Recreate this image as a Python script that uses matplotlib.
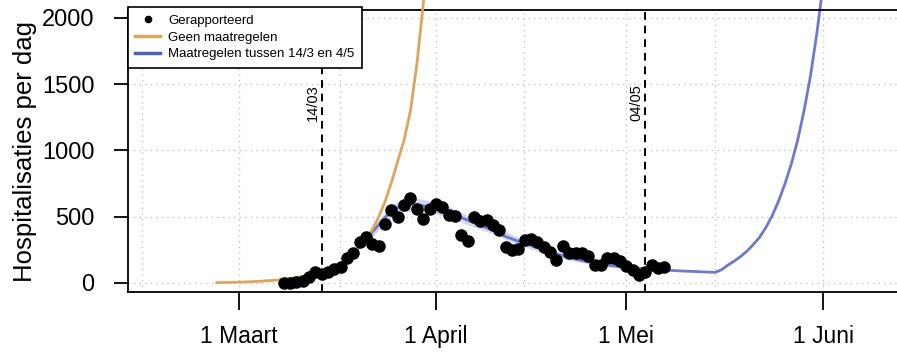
import numpy as np
import matplotlib
matplotlib.use("Agg")
import matplotlib.pyplot as plt
import matplotlib.dates as mdates
from matplotlib.lines import Line2D

# -----------------------------------------------------
# data, days since 1 March 2020
# -----------------------------------------------------
base = np.datetime64("2020-03-01")

# reported hospitalisations per day, one value per day from 8 March
reported_start = 7
reported = [2, 2, 10, 15, 43, 85, 65, 85, 105, 123, 186, 224, 312, 350, 295,
            280, 443, 551, 500, 589, 639, 556, 481, 560, 598, 577, 515, 508,
            365, 318, 498, 470, 475, 435, 400, 274, 247, 255, 325, 333, 312,
            270, 237, 177, 276, 226, 226, 226, 207, 136, 136, 190, 190, 167,
            125, 98, 63, 85, 136, 111, 118]

# scenario without measures
geen_days = [-3.5, 0, 3, 6, 9, 12, 14, 16, 18, 20, 21, 22, 23, 24, 25, 26,
             27, 28, 29, 30]
geen_vals = [3, 6, 12, 22, 40, 70, 100, 150, 220, 330, 405, 500, 615, 760,
             920, 1080, 1300, 1650, 2100, 2700]

# scenario with measures between 14/3 and 4/5
maatr_days = [18, 20, 21, 22, 23, 24, 25, 26, 27, 28, 29, 30, 32, 34, 36, 38,
              40, 42, 44, 46, 48, 50, 52, 54, 56, 58, 60, 62, 64, 66, 68, 70,
              72, 74, 75, 76, 77, 78, 79, 80, 81, 82, 83, 84, 85, 86, 87, 88,
              89, 90, 91, 92, 93]
maatr_vals = [220, 330, 385, 440, 495, 540, 570, 588, 593, 590, 583, 573, 548,
              513, 474, 435, 398, 350, 315, 282, 250, 218, 192, 170, 150, 135,
              124, 114, 106, 100, 95, 90, 86, 82, 80, 100, 135, 165, 200, 240,
              290, 345, 420, 510, 620, 750, 900, 1080, 1300, 1560, 1880, 2250,
              2700]

# uncertainty ribbon of the measures scenario
band_days = [20, 22, 24, 26, 28, 30, 33, 36, 40, 44, 48, 52, 56, 60, 64]
band_low = [300, 400, 495, 540, 545, 530, 495, 440, 370, 290, 225, 172, 135,
            110, 95]
band_high = [360, 480, 590, 640, 640, 620, 580, 510, 430, 345, 275, 212, 168,
             140, 118]

events = [13, 64]
event_labels = ["14/03", "04/05"]

month_days = [0, 31, 61, 92]
month_labels = ["1 Maart", "1 April", "1 Mei", "1 Juni"]
grid_days = [-15.3, 0, 15.9, 31, 44.9, 61, 74.9, 92]
y_ticks = [0, 500, 1000, 1500, 2000]


def to_num(days):
    d0 = mdates.date2num(base)
    return d0 + np.asarray(days, dtype=float)


orange = "#DCA65C"
blue = "#6E79C9"
blue_legend = "#4A62B4"
band_col = "#C9CEF0"

plt.rcParams["font.family"] = ["Liberation Sans", "DejaVu Sans"]

fig = plt.figure(figsize=(8.97, 3.57), dpi=100)
ax = fig.add_axes([128 / 897, 65 / 357, 777 / 897, 282 / 357])

# grid
for g in grid_days:
    ax.axvline(to_num([g])[0], color="#C4C4C4", lw=1.0, ls=(0, (1, 3)), zorder=0)
for yt in y_ticks:
    ax.axhline(yt, color="#C4C4C4", lw=1.0, ls=(0, (1, 3)), zorder=0)

# ribbon + curves
ax.fill_between(to_num(band_days), band_low, band_high, color=band_col,
                alpha=0.8, lw=0, zorder=1)
ax.plot(to_num(maatr_days), maatr_vals, color=blue, lw=2.0, zorder=2,
        clip_on=False)
ax.plot(to_num(geen_days), geen_vals, color=orange, lw=2.0, zorder=3,
        clip_on=False)

# reported points
rep_days = reported_start + np.arange(len(reported))
ax.plot(to_num(rep_days), reported, "o", color="black", ms=8, zorder=4)

# vertical event lines
for d, lab in zip(events, event_labels):
    xe = to_num([d])[0]
    ax.axvline(xe, color="black", lw=1.4, ls=(0, (4, 3)), zorder=5)
    ax.text(xe - 0.3, 1360, lab, rotation=90, ha="right", va="center",
            fontsize=10.5, zorder=6)

ax.set_xlim(to_num([-17.5])[0], to_num([104.9])[0])
ax.set_ylim(-68, 2060)

ax.set_xticks(to_num(month_days))
ax.set_xticklabels(month_labels, fontsize=16.5)
ax.set_yticks(y_ticks)
ax.set_yticklabels([str(v) for v in y_ticks], fontsize=17)
ax.tick_params(axis="x", length=13, width=1.3, pad=11)
ax.tick_params(axis="y", length=10, width=1.3, pad=14)
ax.set_ylabel("Hospitalisaties per dag", fontsize=18.5, labelpad=4)

for side in ["left", "bottom", "top", "right"]:
    ax.spines[side].set_linewidth(1.3)

handles = [
    Line2D([], [], marker="o", ls="none", color="black", ms=4.5),
    Line2D([], [], color=orange, lw=2.5),
    Line2D([], [], color=blue_legend, lw=2.5),
]
labels = ["Gerapporteerd", "Geen maatregelen", "Maatregelen tussen 14/3 en 4/5"]
leg = ax.legend(handles, labels, loc="upper left", bbox_to_anchor=(0, 1.01),
                borderaxespad=0, fontsize=9.5, frameon=True, fancybox=False,
                edgecolor="black", framealpha=1, handlelength=1.9,
                handletextpad=0.6, labelspacing=0.35, borderpad=0.55)
leg.get_frame().set_linewidth(1.2)
leg.set_zorder(10)

fig.savefig("out.png", dpi=100)
